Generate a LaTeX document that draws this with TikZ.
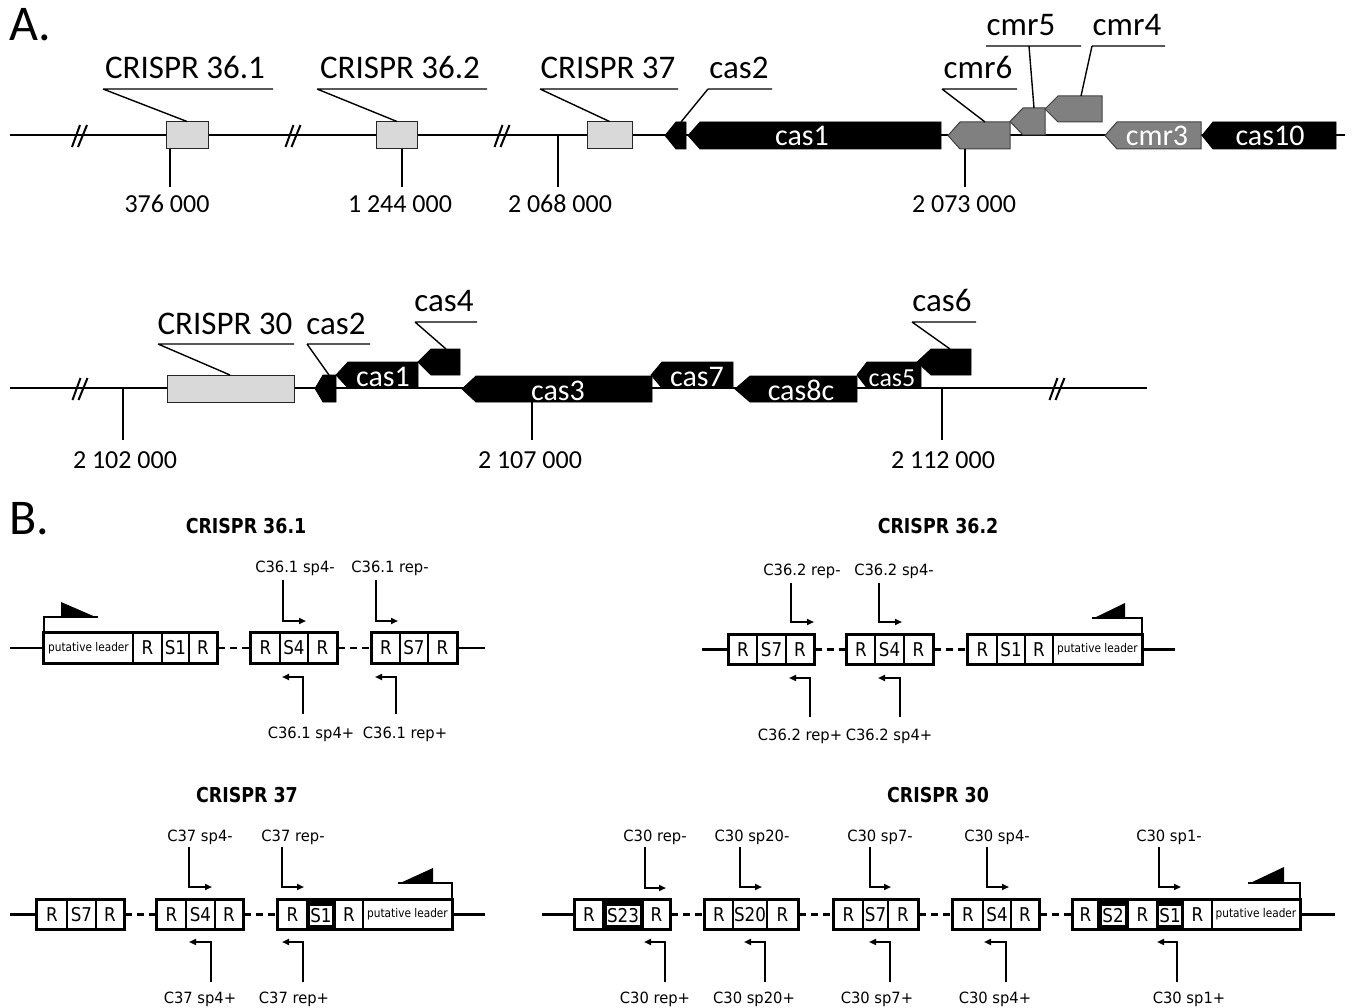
\documentclass[tikz,border=0pt]{standalone}
\usepackage{fontspec}
\setmainfont{Carlito}
\newfontfamily\afont{Carlito}
\newfontfamily\cellfont[FakeStretch=0.88]{DejaVu Sans}
\newfontfamily\labfont[FakeStretch=0.95]{DejaVu Sans}
\newfontfamily\tfont[FakeStretch=0.85]{DejaVu Sans}
\usetikzlibrary{arrows.meta}
\newcommand\genearrow[6]{\path[#6] (#1,{(#4+#5)/2}) -- (#2,#4) -- (#3,#4) -- (#3,#5) -- (#2,#5) -- cycle;}
\newcommand\brkmark[2]{\draw[base] ({#1-7.5},{#2+12}) -- ({#1+0.5},{#2-10}) ({#1-1.5},{#2+12}) -- ({#1+7.5},{#2-10});}
\newcommand\cel[5]{\node[cellbox, minimum width={(#3-#2)*1pt}] (#1) at ({(#2+#3)/2},#4) {#5};}
\newcommand\lcel[4]{\node[leadbox, minimum width={(#3-#2)*1pt}] (#1) at ({(#2+#3)/2},#4) {putative leader};}
\newcommand\hcel[5]{\node[cellbox, fill=black, minimum width={(#3-#2)*1pt}] (#1) at ({(#2+#3)/2},#4) {};
  \node[cellbox, draw=none, minimum width={(#3-#2-7)*1pt}, minimum height=19pt] (#1t) at ([yshift=-1pt]#1.center) {#5};}
\newcommand\grp[2]{\draw[grpline] (#1.north west) rectangle (#2.south east);}
\newcommand\primr[8]{\node[plab] (#1) at (#2,#3) {#4}; \draw[prim] (#5,#6) |- (#7,#8);}
\begin{document}
\begin{tikzpicture}[x=1pt,y=-1pt,
  base/.style={line width=2pt},
  lead/.style={line width=1.4pt},
  alab/.style={font=\afont\fontsize{33}{38}\selectfont, inner sep=0pt, anchor=base},
  anum/.style={font=\afont\fontsize{26}{30}\selectfont, inner sep=0pt, anchor=base},
  gtxt/.style={font=\afont\fontsize{30}{34}\selectfont, text=white, inner sep=0pt, anchor=base},
  blk/.style={fill=black, draw=black, line width=0.8pt},
  gry/.style={fill=black!50, draw=black!75, line width=1pt},
  lgry/.style={fill=black!15, draw=black!85, line width=1pt, inner sep=0pt},
  cellbox/.style={draw, line width=1.8pt, fill=white, minimum height=29pt, inner sep=0pt,
     font=\cellfont\fontsize{19}{22}\selectfont, text height=13.5pt, text depth=0pt},
  leadbox/.style={cellbox, font=\cellfont\fontsize{12}{14}\selectfont, text height=9pt, text depth=2.5pt},
  grpline/.style={line width=2.5pt},
  dline/.style={line width=2.2pt, dash pattern=on 7pt off 5pt},
  bbase/.style={line width=2.4pt},
  plab/.style={font=\labfont\fontsize{15.5}{18}\selectfont, inner sep=0pt, anchor=base},
  prim/.style={line width=2.2pt, -{Triangle[length=7pt,width=6pt]}},
  ttl/.style={font=\tfont\bfseries\fontsize{20.5}{24}\selectfont, inner sep=0pt, anchor=base},
  flag/.style={line width=2pt},
  big/.style={font=\afont\fontsize{50}{56}\selectfont, inner sep=0pt, anchor=base west}
]
\fill[white] (0,0) rectangle (1354,1008);
\useasboundingbox (0,0) rectangle (1354,1008);

% ---------------- A ----------------
\node[big] (A) at (9,41) {A.};
% row 1
\draw[base] (10,135) -- (1345,135);
\brkmark{79.5}{135}\brkmark{293}{135}\brkmark{502}{135}
\node[lgry, minimum width=42pt, minimum height=27pt] (c361) at (187,135.5) {};
\node[lgry, minimum width=41pt, minimum height=27pt] (c362) at (397,135.5) {};
\node[lgry, minimum width=45pt, minimum height=27pt] (c37) at (609.5,135.5) {};
\genearrow{665}{676}{686}{122}{149}{blk}
\genearrow{688}{700}{941}{122}{149}{blk}
\genearrow{948}{960}{1010}{122}{149}{gry}
\genearrow{1010}{1023}{1045}{108}{135}{gry}
\genearrow{1045}{1058}{1102}{96}{122}{gry}
\genearrow{1105}{1117}{1201}{122}{149}{gry}
\genearrow{1202}{1213}{1336}{122}{149}{blk}
\node[gtxt] (tcas1a) at (802,146) {cas1};
\node[gtxt] (tcmr3) at (1157,146) {cmr3};
\node[gtxt] (tcas10) at (1270,146) {cas10};
% labels row 1
\node[alab] (l361) at (185,79) {CRISPR 36.1};
\node[alab] (l362) at (400,79) {CRISPR 36.2};
\node[alab] (l37) at (608,79) {CRISPR 37};
\node[alab] (lcas2a) at (739,79) {cas2};
\node[alab] (lcmr6) at (978,79) {cmr6};
\node[alab] (lcmr5) at (1021,36) {cmr5};
\node[alab] (lcmr4) at (1127,36) {cmr4};
\draw[lead] (103,89) -- (273,89) (103,89) -- (c361.north);
\draw[lead] (317,89) -- (487,89) (317,89) -- (c362.north);
\draw[lead] (540,89) -- (678,89) (540,89) -- (c37.north);
\draw[lead] (708,89) -- (772,89) (708,89) -- (681,122);
\draw[lead] (942,89) -- (1017,89) (942,89) -- (985,122);
\draw[lead] (986,46) -- (1081,46) (1029,46) -- (1034,108);
\draw[lead] (1092,46) -- (1165,46) (1092,46) -- (1081,96);
% ticks row 1
\draw[lead] (170,149) -- (170,187);
\draw[lead] (402,149) -- (402,187);
\draw[lead] (558,135) -- (558,187);
\draw[lead] (965,149) -- (965,187);
\node[anum] (n1) at (167,213) {376 000};
\node[anum] (n2) at (400,213) {1 244 000};
\node[anum] (n3) at (560,213) {2 068 000};
\node[anum] (n4) at (964,213) {2 073 000};

% row 2
\draw[base] (10,388) -- (1147,388);
\brkmark{80}{388}\brkmark{1057}{388}
\node[lgry, minimum width=127pt, minimum height=27pt] (c30) at (230.5,388.5) {};
\genearrow{315}{323}{336}{375}{402}{blk}
\genearrow{336}{348}{418}{362}{388}{blk}
\genearrow{418}{431}{460}{349}{375}{blk}
\genearrow{462}{476}{652}{376}{402}{blk}
\genearrow{651}{662}{733}{362}{388}{blk}
\genearrow{735}{750}{857}{376}{402}{blk}
\genearrow{857}{867}{921}{362}{388}{blk}
\genearrow{917}{931}{971}{349}{375}{blk}
\node[gtxt] (tcas1b) at (383,386) {cas1};
\node[gtxt] (tcas3) at (558,400) {cas3};
\node[gtxt] (tcas7) at (697,386) {cas7};
\node[gtxt] (tcas8c) at (801,400) {cas8c};
\node[gtxt, font=\afont\fontsize{26}{30}\selectfont] (tcas5) at (892,386) {cas5};
\node[alab] (l30) at (225,334) {CRISPR 30};
\node[alab] (lcas2b) at (336,334) {cas2};
\node[alab] (lcas4) at (444,312) {cas4};
\node[alab] (lcas6) at (942,312) {cas6};
\draw[lead] (158,344) -- (294,344) (158,344) -- (230,375);
\draw[lead] (307,344) -- (370,344) (307,344) -- (329,375);
\draw[lead] (415,322) -- (477,322) (415,322) -- (446,349);
\draw[lead] (912,322) -- (976,322) (912,322) -- (950,349);
\draw[lead] (123,388) -- (123,440);
\draw[lead] (532,402) -- (532,440);
\draw[lead] (942,388) -- (942,440);
\node[anum] (n5) at (125,468) {2 102 000};
\node[anum] (n6) at (530,468) {2 107 000};
\node[anum] (n7) at (943,468) {2 112 000};

% ---------------- B ----------------
\node[big] (B) at (9,534) {B.};

% CRISPR 36.1
\node[ttl] (t361) at (246,533) {CRISPR 36.1};
\draw[bbase] (10,648) -- (44,648) (457,648) -- (485,648);
\lcel{a1L}{44}{133}{648}
\cel{a1a}{133}{162}{648}{R}\cel{a1b}{162}{189}{648}{S1}\cel{a1c}{189}{217}{648}{R}
\cel{a2a}{251}{280}{648}{R}\cel{a2b}{280}{308}{648}{S4}\cel{a2c}{308}{337}{648}{R}
\cel{a3a}{372}{400}{648}{R}\cel{a3b}{400}{428}{648}{S7}\cel{a3c}{428}{457}{648}{R}
\grp{a1L}{a1c}\grp{a2a}{a2c}\grp{a3a}{a3c}
\draw[dline] (a1c.east) -- (a2a.west);
\draw[dline] (a2c.east) -- (a3a.west);
\draw[flag] (44,633) -- (44,617) -- (98,617);
\fill (61,602) -- (61,617) -- (98,618) -- cycle;
\primr{pa1}{295}{572}{C36.1 sp4-}{283}{580}{306}{621}
\primr{pa2}{390}{572}{C36.1 rep-}{376}{580}{398}{621}
\primr{pa3}{311}{738}{C36.1 sp4+}{303}{714}{282}{677}
\primr{pa4}{405}{738}{C36.1 rep+}{396}{714}{375}{677}

% CRISPR 36.2
\node[ttl] (t362) at (938,533) {CRISPR 36.2};
\draw[bbase] (702,649.5) -- (729,649.5) (1142,649.5) -- (1175,649.5);
\cel{b1a}{729}{757}{649.5}{R}\cel{b1b}{757}{786}{649.5}{S7}\cel{b1c}{786}{814}{649.5}{R}
\cel{b2a}{847}{875}{649.5}{R}\cel{b2b}{875}{904}{649.5}{S4}\cel{b2c}{904}{933}{649.5}{R}
\cel{b3a}{968}{997}{649.5}{R}\cel{b3b}{997}{1025}{649.5}{S1}\cel{b3c}{1025}{1053}{649.5}{R}
\lcel{b3L}{1053}{1142}{649.5}
\grp{b1a}{b1c}\grp{b2a}{b2c}\grp{b3a}{b3L}
\draw[dline] (b1c.east) -- (b2a.west);
\draw[dline] (b2c.east) -- (b3a.west);
\draw[flag] (1142,635) -- (1142,618) -- (1092,618);
\fill (1125,603) -- (1125,618) -- (1092,619) -- cycle;
\primr{pb1}{802}{575}{C36.2 rep-}{791}{583}{814}{622}
\primr{pb2}{894}{575}{C36.2 sp4-}{879}{583}{902}{622}
\primr{pb3}{800}{740}{C36.2 rep+}{810}{717}{789}{678}
\primr{pb4}{889}{740}{C36.2 sp4+}{900}{717}{878}{678}

% CRISPR 37
\node[ttl] (t37) at (247,802) {CRISPR 37};
\draw[bbase] (10,914.5) -- (37,914.5) (452,914.5) -- (485,914.5);
\cel{c1a}{37}{67}{914.5}{R}\cel{c1b}{67}{96}{914.5}{S7}\cel{c1c}{96}{124}{914.5}{R}
\cel{c2a}{157}{186}{914.5}{R}\cel{c2b}{186}{215}{914.5}{S4}\cel{c2c}{215}{243}{914.5}{R}
\cel{c3a}{278}{307}{914.5}{R}\hcel{c3b}{307}{335}{914.5}{S1}\cel{c3c}{335}{363}{914.5}{R}
\lcel{c3L}{363}{452}{914.5}
\grp{c1a}{c1c}\grp{c2a}{c2c}\grp{c3a}{c3L}
\draw[dline] (c1c.east) -- (c2a.west);
\draw[dline] (c2c.east) -- (c3a.west);
\draw[flag] (452,900) -- (452,883) -- (398,883);
\fill (433,868) -- (433,883) -- (398,884) -- cycle;
\primr{pc1}{200}{841}{C37 sp4-}{189}{847}{212}{887}
\primr{pc2}{293}{841}{C37 rep-}{282}{847}{304}{887}
\primr{pc3}{200}{1003}{C37 sp4+}{211}{982}{189}{942}
\primr{pc4}{294}{1003}{C37 rep+}{303}{982}{282}{942}

% CRISPR 30
\node[ttl] (t30) at (938,802) {CRISPR 30};
\draw[bbase] (542,914.5) -- (575,914.5) (1300,914.5) -- (1335,914.5);
\cel{d1a}{575}{603}{914.5}{R}\hcel{d1b}{603}{643}{914.5}{S23}\cel{d1c}{643}{670}{914.5}{R}
\cel{d2a}{705}{733}{914.5}{R}\cel{d2b}{733}{767}{914.5}{S20}\cel{d2c}{767}{798}{914.5}{R}
\cel{d3a}{834}{863}{914.5}{R}\cel{d3b}{863}{888}{914.5}{S7}\cel{d3c}{888}{918}{914.5}{R}
\cel{d4a}{953}{983}{914.5}{R}\cel{d4b}{983}{1011}{914.5}{S4}\cel{d4c}{1011}{1039}{914.5}{R}
\cel{d5a}{1073}{1098}{914.5}{R}\hcel{d5b}{1098}{1128}{914.5}{S2}\cel{d5c}{1128}{1157}{914.5}{R}
\hcel{d5d}{1157}{1183}{914.5}{S1}\cel{d5e}{1183}{1212}{914.5}{R}
\lcel{d5L}{1212}{1300}{914.5}
\grp{d1a}{d1c}\grp{d2a}{d2c}\grp{d3a}{d3c}\grp{d4a}{d4c}\grp{d5a}{d5L}
\draw[dline] (d1c.east) -- (d2a.west);
\draw[dline] (d2c.east) -- (d3a.west);
\draw[dline] (d3c.east) -- (d4a.west);
\draw[dline] (d4c.east) -- (d5a.west);
\draw[flag] (1300,900) -- (1300,883) -- (1248,883);
\fill (1284,867) -- (1284,883) -- (1248,884) -- cycle;
\primr{pd1}{655}{841}{C30 rep-}{645}{847}{666}{888}
\primr{pd2}{752}{841}{C30 sp20-}{740}{847}{762}{887}
\primr{pd3}{880}{841}{C30 sp7-}{870}{847}{891}{887}
\primr{pd4}{997}{841}{C30 sp4-}{987}{847}{1009}{887}
\primr{pd5}{1169}{841}{C30 sp1-}{1159}{847}{1181}{887}
\primr{pd6}{655}{1003}{C30 rep+}{665}{982}{644}{942}
\primr{pd7}{754}{1003}{C30 sp20+}{765}{982}{744}{942}
\primr{pd8}{877}{1003}{C30 sp7+}{890}{982}{869}{942}
\primr{pd9}{995}{1003}{C30 sp4+}{1006}{982}{984}{942}
\primr{pd10}{1189}{1003}{C30 sp1+}{1177}{982}{1157}{942}
\end{tikzpicture}
\end{document}
